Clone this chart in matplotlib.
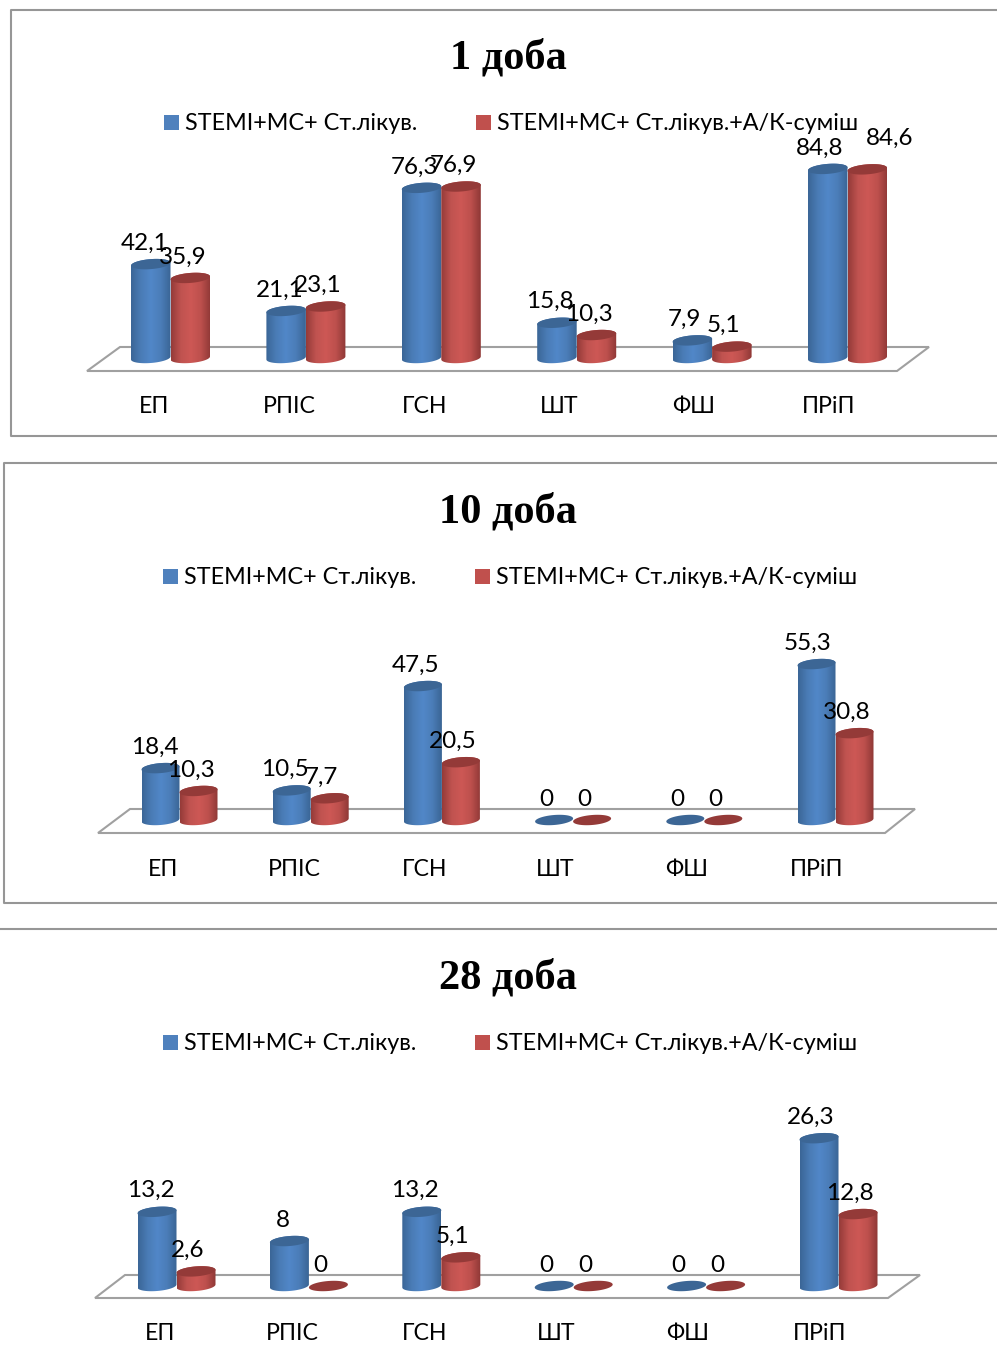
import matplotlib
matplotlib.use('Agg')
import matplotlib.pyplot as plt
from matplotlib.patches import Polygon, Rectangle
import numpy as np

W, H = 997, 1361
FONT = ['Lato', 'Noto Sans', 'DejaVu Sans']
plt.rcParams['font.family'] = FONT

categories = ['ЕП', 'РПІС', 'ГСН', 'ШТ', 'ФШ', 'ПРіП']
series_names = ['STEMI+МС+ Ст.лікув.', 'STEMI+МС+ Ст.лікув.+А/К-суміш']
titles = ['1 доба', '10 доба', '28 доба']

day1_blue = [42.1, 21.1, 76.3, 15.8, 7.9, 84.8]
day1_red = [35.9, 23.1, 76.9, 10.3, 5.1, 84.6]
day10_blue = [18.4, 10.5, 47.5, 0, 0, 55.3]
day10_red = [10.3, 7.7, 20.5, 0, 0, 30.8]
day28_blue = [13.2, 8, 13.2, 0, 0, 26.3]
day28_red = [2.6, 0, 5.1, 0, 0, 12.8]

# layout of each block, all in pixels of the final image
panels = [
    dict(blue=day1_blue, red=day1_red, title=titles[0], title_y=58, title_x=508,
         first=170.5, step=135.4, width=39.5, base=358, scale=2.23,
         legend_y=123, legend_x=(164, 476), cat_y=407, cat_dx=-16,
         floor=[(87, 371), (120, 347), (929, 347), (897, 371)],
         shift={(1, 5): (22, 31)}),
    dict(blue=day10_blue, red=day10_red, title=titles[1], title_y=512, title_x=508,
         first=179.5, step=131.2, width=38, base=820, scale=2.82,
         legend_y=577, legend_x=(163, 475), cat_y=869, cat_dx=-16,
         floor=[(98, 833), (130, 809), (915, 809), (885, 833)],
         shift={}),
    dict(blue=day28_blue, red=day28_red, title=titles[2], title_y=978, title_x=508,
         first=176.5, step=132.4, width=39, base=1286, scale=5.62,
         legend_y=1043, legend_x=(163, 475), cat_y=1334, cat_dx=-16,
         floor=[(95, 1298), (125, 1275), (920, 1275), (888, 1298)],
         shift={}),
]

BLUE = ['#3b6697', '#4a7cb6', '#5187c8', '#4b7db8', '#3a6595']
RED = ['#953b39', '#c05350', '#cd5855', '#bd504d', '#8f3836']
BLUE_TOP, RED_TOP = '#3c6695', '#943a38'
LEGEND_COL = ['#4f81bd', '#c0504d']
LINE = '#969696'


def hex_rgb(c):
    return np.array(matplotlib.colors.to_rgb(c))


def shade(colors):
    # horizontal gradient strip for a cylinder body
    stops = np.array([hex_rgb(c) for c in colors])
    pos = np.linspace(0, 1, len(colors))
    xs = np.linspace(0, 1, 64)
    return np.stack([np.interp(xs, pos, stops[:, k]) for k in range(3)], axis=1)[None, :, :]


def cylinder(ax, xc, value, half_w, half_h, tilt, colors, top):
    low, high = min(0, value), max(0, value)
    t = np.linspace(0, 2 * np.pi, 80)
    ex = half_w * np.cos(t)
    ey = half_h * np.sin(t) + tilt * np.cos(t)
    if value > 0:
        tt = np.linspace(np.pi, 2 * np.pi, 40)
        bx = xc + half_w * np.cos(tt)
        by = low + half_h * np.sin(tt) + tilt * np.cos(tt)
        tt2 = np.linspace(0, np.pi, 40)
        ux = xc + half_w * np.cos(tt2)
        uy = high + half_h * np.sin(tt2) + tilt * np.cos(tt2)
        body = Polygon(np.column_stack([np.r_[bx, ux], np.r_[by, uy]]), closed=True,
                       fc='none', ec='none', transform=ax.transData)
        ax.add_patch(body)
        im = ax.imshow(shade(colors), extent=[xc - half_w, xc + half_w, low - 3 * half_h, high + 3 * half_h],
                       aspect='auto', interpolation='bilinear', zorder=3)
        im.set_clip_path(body)
    ax.add_patch(Polygon(np.column_stack([xc + ex, value + ey]), closed=True, fc=top, ec='none', zorder=4))


fig = plt.figure(figsize=(W / 100, H / 100), dpi=100)

# full-size layer for frames, titles, legends and the floors
bg = fig.add_axes([0, 0, 1, 1], zorder=0)
bg.set_xlim(0, W)
bg.set_ylim(H, 0)
bg.axis('off')
bg.add_line(plt.Line2D([W, 11, 11, W], [10, 10, 436, 436], color=LINE, lw=1.5))
bg.add_line(plt.Line2D([W, 4, 4, W], [463, 463, 903, 903], color=LINE, lw=1.5))
bg.add_line(plt.Line2D([0, W], [929, 929], color=LINE, lw=1.5))

for p in panels:
    bg.text(p['title_x'], p['title_y'], p['title'], family='Liberation Serif', weight='bold',
            fontsize=30.5, ha='center', va='center')
    for k in range(2):
        x = p['legend_x'][k]
        y = p['legend_y']
        bg.add_patch(Rectangle((x, y - 8.5), 15, 15, fc=LEGEND_COL[k], ec='none'))
        bg.text(x + 21, y, series_names[k], fontsize=16.85, ha='left', va='center')
    bg.add_patch(Polygon(p['floor'], closed=True, fc='white', ec='#a0a0a0', lw=1.5))

    # chart layer: x in category numbers, y in percent
    x_lo = (0 - p['first']) / p['step']
    x_hi = (W - p['first']) / p['step']
    top_px = p['base'] - 230
    bot_px = p['base'] + 70
    ax = fig.add_axes([0, 1 - bot_px / H, 1, (bot_px - top_px) / H], zorder=1)
    ax.patch.set_alpha(0)
    ax.axis('off')

    half_w = p['width'] / 2 / p['step']
    half_h = 5 / p['scale']
    tilt = 1.5 / p['scale']
    for i in range(len(categories)):
        for k, (vals, cols, top) in enumerate([(p['blue'], BLUE, BLUE_TOP), (p['red'], RED, RED_TOP)]):
            xc = i + (2 * k - 1) * half_w
            cylinder(ax, xc, vals[i], half_w, half_h, tilt, cols, top)
            # blue labels drift a little further left along the row
            default_dx = -6 - 0.5 * i if k == 0 else -8
            dx, dy = p['shift'].get((k, i), (default_dx, 21))
            ax.annotate(str(vals[i]).replace('.', ','), (xc, vals[i]),
                        xytext=(dx * 0.72, dy * 0.72), textcoords='offset points',
                        fontsize=17.5, ha='center', va='center', zorder=6, annotation_clip=False)
        ax.annotate(categories[i], (i, 0), xytext=((p['cat_dx'] - 0.5 * i) * 0.72, (p['base'] - p['cat_y']) * 0.72),
                    textcoords='offset points', fontsize=16.7, ha='center', va='center',
                    annotation_clip=False)
    ax.set_xlim(x_lo, x_hi)
    ax.set_ylim((p['base'] - bot_px) / p['scale'], (p['base'] - top_px) / p['scale'])

fig.savefig('out.png', dpi=100)
